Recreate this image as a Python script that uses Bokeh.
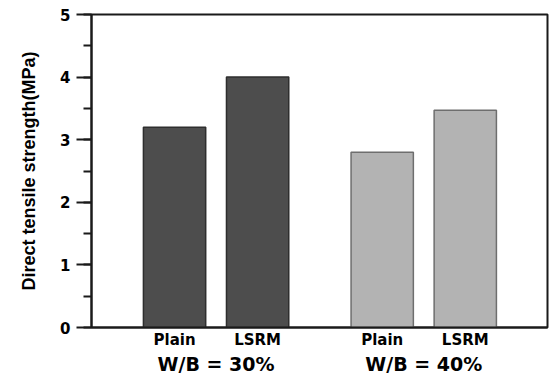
from bokeh.plotting import figure
from bokeh.models import LinearAxis, FixedTicker, Range1d, ColumnDataSource
from bokeh.embed import file_html
from bokeh.resources import INLINE

# data
groups = ["W/B = 30%", "W/B = 40%"]
mixes = ["Plain", "LSRM", "Plain", "LSRM"]
strength = [3.2, 4.0, 2.8, 3.47]
positions = [1.0, 2.0, 3.5, 4.5]
group_positions = [1.5, 4.0]
fills = ["#4d4d4d", "#4d4d4d", "#b3b3b3", "#b3b3b3"]
borders = ["#2e2e2e", "#2e2e2e", "#6e6e6e", "#6e6e6e"]
y_ticks = [0, 1, 2, 3, 4, 5]

src = ColumnDataSource(dict(x=positions, top=strength, fill=fills, line=borders))

p = figure(width=549, height=377, output_backend="svg", toolbar_location=None,
           x_range=Range1d(0, 5.49), y_range=Range1d(0, 5),
           min_border_left=91, min_border_right=2, min_border_top=14, min_border_bottom=50,
           x_axis_location=None)
p.xgrid.visible = False
p.ygrid.visible = False
p.outline_line_color = "#1a1a1a"
p.outline_line_width = 2
p.background_fill_color = "white"
p.border_fill_color = "white"

p.vbar(x="x", top="top", bottom=0, width=0.75, source=src,
       fill_color="fill", line_color="line", line_width=1.5)

# y axis
ya = p.yaxis[0]
ya.ticker = FixedTicker(ticks=y_ticks, minor_ticks=[0.5 * i for i in range(11)])
ya.axis_line_width = 2
ya.axis_line_color = "#1a1a1a"
ya.major_tick_out = 15
ya.major_tick_in = 0
ya.major_tick_line_width = 2
ya.major_tick_line_color = "#1a1a1a"
ya.minor_tick_out = 8
ya.minor_tick_in = 0
ya.minor_tick_line_width = 2
ya.minor_tick_line_color = "#1a1a1a"
ya.major_label_text_font = "DejaVu Sans"
ya.major_label_text_font_style = "bold"
ya.major_label_text_font_size = "15px"
ya.major_label_text_color = "black"
ya.major_label_standoff = 6
ya.axis_label = "Direct tensile strength(MPa)"
ya.axis_label_text_font = "Liberation Sans"
ya.axis_label_text_font_style = "bold"
ya.axis_label_text_font_size = "18px"
ya.axis_label_text_color = "black"
ya.axis_label_standoff = 18

# bottom axis with mix labels
xa = LinearAxis(ticker=FixedTicker(ticks=positions),
                major_label_overrides={pos: m for pos, m in zip(positions, mixes)})
xa.axis_line_width = 2
xa.axis_line_color = "#1a1a1a"
xa.major_tick_out = 0
xa.major_tick_in = 0
xa.minor_tick_out = 0
xa.minor_tick_in = 0
xa.axis_label_standoff = 0
xa.major_label_text_font = "DejaVu Sans"
xa.major_label_text_font_style = "bold"
xa.major_label_text_font_size = "15px"
xa.major_label_text_color = "black"
xa.major_label_standoff = 3
p.add_layout(xa, "below")

# group axis
ga = LinearAxis(ticker=FixedTicker(ticks=group_positions),
                major_label_overrides={pos: g for pos, g in zip(group_positions, groups)})
ga.axis_line_color = None
ga.major_tick_out = 0
ga.major_tick_in = 0
ga.minor_tick_out = 0
ga.minor_tick_in = 0
ga.axis_label_standoff = 0
ga.major_label_text_font = "DejaVu Sans"
ga.major_label_text_font_style = "bold"
ga.major_label_text_font_size = "19px"
ga.major_label_text_color = "black"
ga.major_label_standoff = 1
p.add_layout(ga, "below")

open("out.html", "w").write(file_html(p, INLINE))
